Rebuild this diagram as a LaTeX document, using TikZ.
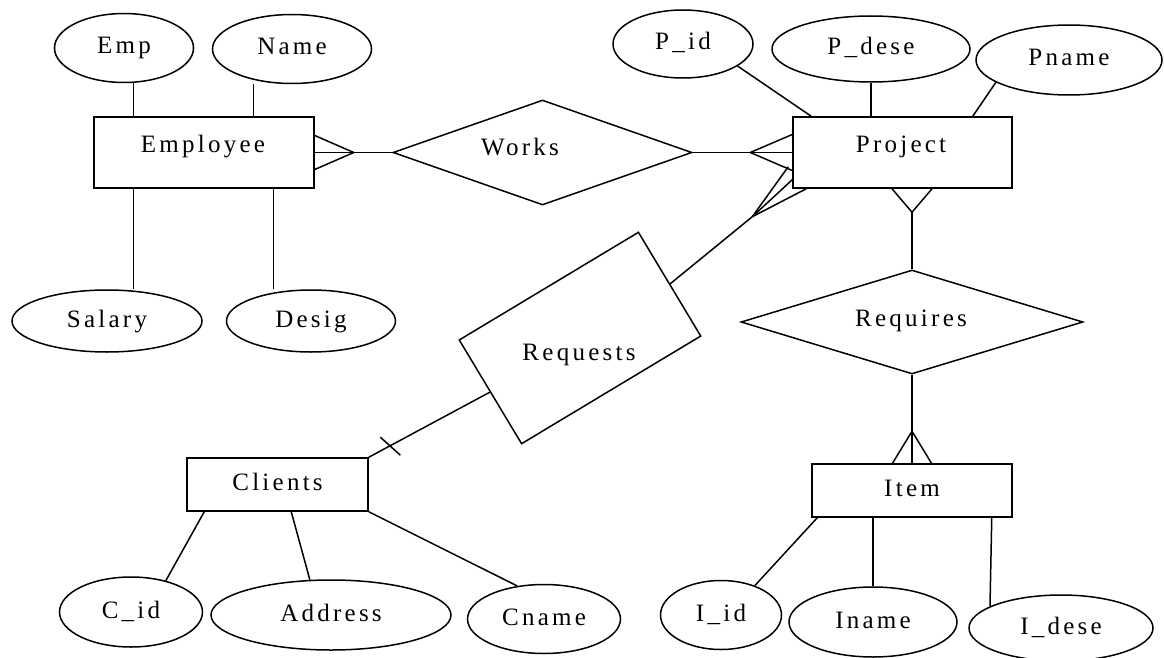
\documentclass[tikz,border=0pt]{standalone}
\usepackage{fontspec}
\newfontfamily\erfont[LetterSpace=13]{Liberation Serif}
\newcommand\erf{\erfont\fontsize{25pt}{30pt}\selectfont}
\usetikzlibrary{shapes.geometric,calc}
\tikzset{
  lbl/.style={font=\erf, text height=17pt, text depth=5pt, inner sep=0pt},
  conn/.style={line width=1.5pt},
  attr/.style={draw, ellipse, line width=1.5pt, lbl},
  entity/.style={draw, rectangle, line width=1.5pt, lbl},
  rel/.style={draw, diamond, aspect=1, line width=1.5pt, inner sep=0pt},
}
\begin{document}
\begin{tikzpicture}[x=1pt,y=-1pt]
\fill[white] (0,0) rectangle (1164,658);
\useasboundingbox (0,0) rectangle (1164,658);

% Employee side
\node[entity, minimum width=220pt, minimum height=71pt] (employee) at (204,152.5) {};
\node[lbl, anchor=base] (employeeT) at (203,152.7) {Employee};
\node[attr, minimum width=139pt, minimum height=69pt] (emp) at (124,48) {Emp};
\node[attr, minimum width=159pt, minimum height=69pt] (name) at (292,49) {Name};
\node[attr, minimum width=190pt, minimum height=62pt] (salary) at (107,321) {Salary};
\node[attr, minimum width=169pt, minimum height=62pt] (desig) at (311,321) {Desig};

% Works
\node[rel, minimum width=299pt, minimum height=105pt] (works) at (542.5,152.5) {};
\node[lbl, anchor=base] (worksT) at (520,155.7) {Works};

% Project side
\node[entity, minimum width=219pt, minimum height=71pt] (project) at (902.5,152.5) {};
\node[lbl, anchor=base] (projectT) at (901,153) {Project};
\node[attr, minimum width=140pt, minimum height=68pt] (pid) at (683,44) {P\_id};
\node[attr, minimum width=198pt, minimum height=66pt] (pdese) at (871,49) {P\_dese};
\node[attr, minimum width=186pt, minimum height=70pt] (pname) at (1069,60) {Pname};

% Requires and Item
\node[rel, minimum width=342pt, minimum height=104pt] (requires) at (912,322) {};
\node[lbl, anchor=base] (requiresT) at (911,326) {Requires};
\node[entity, minimum width=200pt, minimum height=53pt] (item) at (912,490.5) {Item};
\node[attr, minimum width=121pt, minimum height=69pt] (iid) at (721,615) {I\_id};
\node[attr, minimum width=168pt, minimum height=70pt] (iname) at (873,622) {Iname};
\node[attr, minimum width=184pt, minimum height=66pt] (idese) at (1061,628) {I\_dese};

% Clients
\node[entity, minimum width=181pt, minimum height=53pt] (clients) at (277.5,484.5) {Clients};
\node[attr, minimum width=143pt, minimum height=70pt] (cid) at (131,612) {C\_id};
\node[attr, minimum width=240pt, minimum height=70pt] (address) at (331,615) {Address};
\node[attr, minimum width=153pt, minimum height=69pt] (cname) at (544,619) {Cname};

% Requests
\node[draw, line width=1.5pt, rotate=31, minimum width=209pt, minimum height=121pt, inner sep=0pt] (requests) at (580,338) {};
\node[lbl, anchor=base] (requestsT) at (579,360) {Requests};

% Employee attributes
\coordinate (e1) at ($(employee.north west)+(40,0)$);
\coordinate (e2) at ($(employee.north west)+(160,0)$);
\coordinate (e3) at ($(employee.south west)+(40,0)$);
\coordinate (e4) at ($(employee.south west)+(180,0)$);
\draw[conn] (e1) -- (e1 |- emp.south);
\draw[conn] (e2) -- (e2 |- name.south);
\draw[conn] (e3) -- (e3 |- salary.north);
\draw[conn] (e4) -- (e4 |- desig.north);

% Employee -- Works
\coordinate (ecf) at ($(employee.east)+(39,0)$);
\draw[conn] ($(employee.east)+(0,-17)$) -- (ecf) -- ($(employee.east)+(0,17)$);
\draw[conn] (employee.east) -- (ecf) -- (works.west);

% Works -- Project
\coordinate (pcf) at ($(project.west)+(-42,0)$);
\draw[conn] (works.east) -- (pcf);
\draw[conn] ($(project.west)+(0,-18)$) -- (pcf) -- ($(project.west)+(0,18)$);
\draw[conn] (pcf) -- (project.west);

% Project attributes
\draw[conn] (pid.-22) -- ($(project.north west)+(19,0)$);
\draw[conn] (pdese.south) -- (pdese.south |- project.north);
\draw[conn] (pname.197) -- ($(project.north east)+(-40,0)$);

% Project -- Requires
\coordinate (rcf) at ($(requires.north)+(0,-57)$);
\draw[conn] (requires.north) -- (rcf);
\draw[conn] ($(rcf |- project.south)+(-20,0)$) -- (rcf) -- ($(rcf |- project.south)+(20,0)$);

% Requires -- Item
\coordinate (icf) at ($(item.north)+(0,-32)$);
\draw[conn] (requires.south) -- (icf);
\draw[conn] ($(item.north)+(-19.5,0)$) -- (icf) -- ($(item.north)+(19.5,0)$);
\draw[conn] (icf) -- (item.north);

% Item attributes
\draw[conn] ($(item.south west)+(6,0)$) -- (iid.41);
\draw[conn] (iname.north |- item.south) -- (iname.north);
\draw[conn] ($(item.south east)+(-21,0)$) -- (idese.163);

% Requests -- Project
\coordinate (qcf) at ($(project.south west)+(-40,28)$);
\draw[conn] (requests.east) -- (qcf);
\draw[conn] (qcf) -- ($(project.south west)+(-4,-22)$);
\draw[conn] (qcf) -- ($(project.south west)+(0,-9)$);
\draw[conn] (qcf) -- ($(project.south west)+(14,0)$);

% Clients -- Requests
\draw[conn] (clients.north east) -- (requests.west);
\coordinate (tk) at ($(clients.north east)!0.17!(requests.west)$);
\draw[conn] ($(tk)+(-9,-9)$) -- ($(tk)+(11,9)$);

% Clients attributes
\draw[conn] ($(clients.south west)+(18,0)$) -- (cid.42);
\draw[conn] ($(clients.south west)+(105,0)$) -- (address.121);
\draw[conn] (clients.south east) -- (cname.129.5);
\end{tikzpicture}
\end{document}
